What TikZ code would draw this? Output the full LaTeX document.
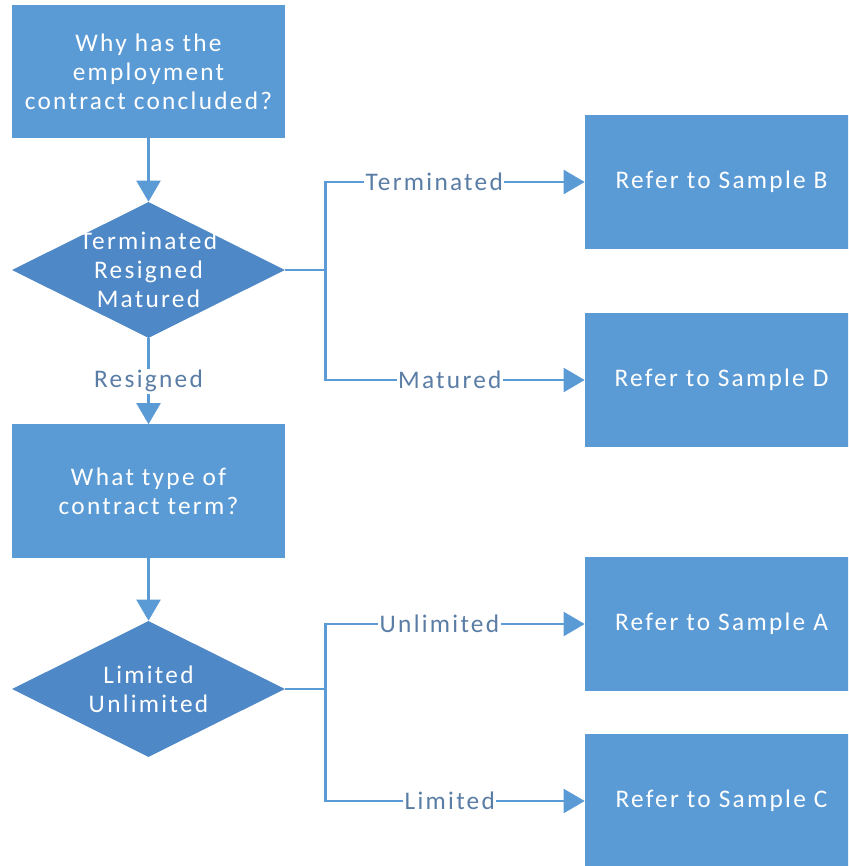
\documentclass[tikz,border=0pt]{standalone}
\usepackage{fontspec}
\setmainfont{Carlito}[LetterSpace=9]
\usetikzlibrary{shapes.geometric,arrows.meta}

\definecolor{boxblue}{HTML}{5B9BD5}
\definecolor{diablue}{HTML}{4F88C6}
\definecolor{labelblue}{RGB}{90,125,165}

\def\boxwd{6.825cm}
\def\stub{40}

\begin{document}
\begin{tikzpicture}[x=0.025cm, y=0.025cm, font=\fontsize{18}{20.6}\selectfont]
    \tikzstyle{flow}=[draw=boxblue, line width=2pt, -{Triangle[length=15pt,width=17pt]}]
    \tikzstyle{question box}=[rectangle, fill=boxblue, text=white, minimum width=\boxwd, minimum height=3.325cm, inner sep=0pt, align=center]
    \tikzstyle{sample box}=[question box]
    \tikzstyle{decision}=[diamond, fill=diablue, minimum width=\boxwd, minimum height=3.4cm, inner sep=0pt]
    \tikzstyle{decision text}=[text=white, align=center]
    \tikzstyle{branch label}=[fill=white, text=labelblue, inner sep=1pt]

    \useasboundingbox (0,0) rectangle (848,-866);
    \clip (0,0) rectangle (848,-866);

    \node[question box] (Q1) at (148.5,-71.5) {Why has the\\employment\\contract concluded?};
    \node[decision, label={[decision text]center:{Terminated\\Resigned\\Matured}}] (D1) at (148.5,-270) {};
    \node[question box] (Q2) at (148.5,-491) {What type of\\contract term?};
    \node[decision, label={[decision text]center:{Limited\\Unlimited}}] (D2) at (148.5,-689) {};

    \foreach \name / \y in {B/182, D/380, A/624, C/801}
        \node[sample box] (S-\name) at (721.5,-\y) {Refer to Sample \name};

    \draw[flow] (Q1) -- (D1);
    \draw[flow] (D1) -- node[branch label] {Resigned} (Q2);
    \draw[flow] (Q2) -- (D2);

    \foreach \dest / \txt / \p in {B/Terminated/0.71, D/Matured/0.74}
        \draw[flow] (D1.east) -- ++(\stub,0) |- node[branch label, pos=\p] {\txt} (S-\dest);

    \foreach \dest / \txt / \p in {A/Unlimited/0.72, C/Limited/0.74}
        \draw[flow] (D2.east) -- ++(\stub,0) |- node[branch label, pos=\p] {\txt} (S-\dest);
\end{tikzpicture}
\end{document}
